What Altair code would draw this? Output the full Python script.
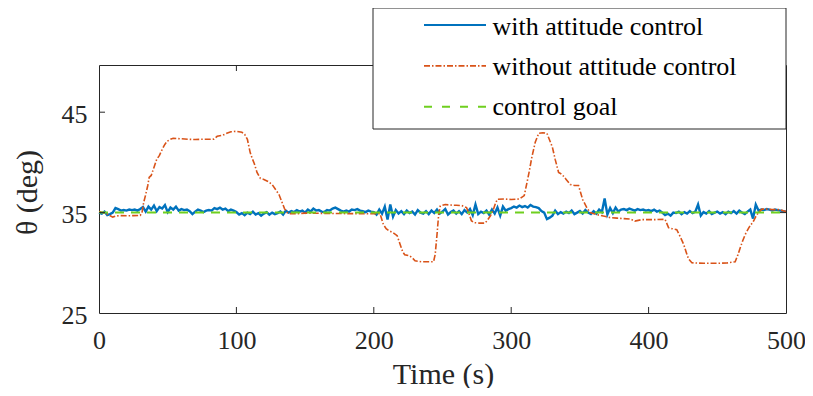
import altair as alt
import pandas as pd

# ---------------- data ----------------
blue_t = list(range(0, 501, 2))
blue_theta = [
    35.0, 34.9, 35.1, 34.75, 34.85, 35.0, 35.45, 35.35, 35.2, 35.25,
    35.2, 35.3, 35.25, 35.3, 35.2, 35.35, 35.55, 35.1, 35.6, 35.3,
    35.7, 35.15, 35.55, 35.4, 35.75, 35.05, 35.5, 35.3, 35.6, 35.2,
    35.35, 35.25, 35.3, 35.15, 34.85, 35.1, 35.3, 35.2, 35.05, 35.2,
    35.25, 35.2, 35.45, 35.35, 35.5, 35.3, 35.4, 35.15, 35.3, 35.2,
    35.05, 34.8, 34.95, 34.75, 35.0, 34.85, 35.1, 34.8, 34.95, 34.7,
    34.9, 35.05, 34.8, 35.0, 34.85, 34.95, 35.1, 34.8, 35.2, 35.0,
    35.15, 35.05, 35.25, 35.1, 35.2, 35.0, 35.3, 35.1, 35.4, 35.2,
    35.25, 35.1, 35.05, 35.25, 35.2, 35.4, 35.5, 35.35, 35.2, 35.1,
    35.2, 35.1, 35.3, 35.25, 35.35, 35.2, 35.15, 35.05, 35.2, 35.1,
    35.05, 34.8, 35.3, 34.9, 35.6, 34.3, 35.8, 34.6, 35.25, 34.9,
    35.15, 34.85, 35.2, 34.95, 35.1, 34.8, 35.25, 35.0, 34.9, 35.15,
    34.85, 35.2, 34.95, 35.3, 34.9, 35.1, 35.35, 34.8, 35.05, 35.2,
    34.9, 35.15, 34.85, 35.25, 35.0, 35.35, 34.75, 35.8, 34.85, 35.1,
    34.95, 35.2, 34.8, 35.3, 34.9, 35.5, 34.7, 35.6, 35.2, 35.35,
    35.45, 35.6, 35.5, 35.7, 35.55, 35.65, 35.5, 35.75, 35.6, 35.55,
    35.45, 35.15, 35.0, 34.35, 34.5, 34.7, 35.2, 34.85, 35.05, 34.9,
    35.1, 34.95, 35.2, 34.85, 35.0, 35.15, 34.9, 35.25, 35.0, 34.85,
    35.15, 34.9, 35.3, 35.05, 36.4, 34.8, 35.45, 34.95, 35.5, 35.1,
    35.3, 35.35, 35.25, 35.4, 35.3, 35.2, 35.35, 35.25, 35.3, 35.2,
    35.25, 35.15, 35.3, 35.1, 35.2, 35.0, 34.75, 34.9, 34.7, 35.0,
    34.95, 35.1, 34.85, 35.05, 34.9, 35.15, 34.95, 35.1, 35.8, 34.7,
    35.05, 34.9, 35.15, 34.85, 35.0, 35.1, 34.9, 35.05, 34.85, 35.1,
    34.95, 35.15, 34.9, 35.2, 35.0, 34.85, 35.1, 35.3, 34.4, 35.8,
    35.2, 35.3, 35.25, 35.35, 35.3, 35.2, 35.3, 35.25, 35.2, 35.15,
    35.1,
]

orange_t = [
    0, 3, 6, 10, 12, 15, 20, 25, 30, 31.3,
    32.5, 34, 35.5, 36.5, 38, 40, 42, 44, 46, 47.5,
    49.5, 52, 54, 60, 65, 70, 75, 80, 83.5, 86,
    90, 93, 96, 100, 104, 106, 108, 110, 111.5, 113,
    115, 117.5, 120, 123, 126, 128.5, 131, 133, 135, 137,
    138, 145, 150, 165, 180, 195, 204.5, 207, 209, 211,
    214, 217, 219, 221, 222.5, 226, 228, 230, 235, 240,
    243.5, 244.7, 246, 247.2, 248.4, 252, 256, 260, 264, 267.5,
    269, 271, 273, 277, 281, 283, 285, 287, 288.5, 290,
    295, 300, 306, 309.5, 311.5, 313, 315, 317.5, 320, 323,
    326, 328, 330, 332, 334.5, 337, 340, 343, 346, 349,
    350.5, 352, 355, 357.5, 362, 367, 372, 377, 382, 387,
    390, 395, 400, 405, 412, 414.5, 417, 420.5, 423, 425.5,
    427.5, 429, 431.5, 440, 450, 457, 463, 465, 466.7, 468.5,
    470.4, 473, 476.4, 478, 480, 482.5, 486, 490, 495, 500,
]
orange_theta = [
    35.1, 35.0, 34.85, 34.55, 34.65, 34.7, 34.68, 34.7, 34.72, 35.0,
    36.0, 36.8, 37.7, 38.5, 38.7, 39.5, 40.3, 40.7, 41.3, 41.7,
    42.1, 42.3, 42.4, 42.35, 42.3, 42.28, 42.3, 42.3, 42.32, 42.6,
    42.7, 42.9, 43.05, 43.1, 43.0, 42.8, 42.3, 41.0, 40.4, 39.9,
    39.0, 38.4, 38.3, 38.1, 37.8, 37.3, 36.8, 36.1, 35.4, 35.0,
    34.9, 34.9, 34.95, 34.92, 34.9, 34.88, 34.9, 33.8, 33.4, 33.2,
    33.0, 32.7, 31.9, 31.1, 30.8, 30.7, 30.5, 30.2, 30.1, 30.1,
    30.1, 30.85, 32.8, 34.8, 35.66, 35.8, 35.75, 35.73, 35.7, 35.5,
    35.0, 34.2, 34.0, 33.95, 33.95, 34.3, 34.7, 35.3, 35.9, 36.33,
    36.35, 36.3, 36.35, 36.7, 38.0, 39.0, 40.5, 42.0, 42.9, 42.95,
    42.9, 42.2, 41.5, 40.3, 39.0, 38.8, 38.3, 37.8, 37.7, 37.7,
    37.0, 36.3, 35.5, 35.0, 34.8, 34.67, 34.5, 34.45, 34.4, 34.35,
    34.15, 34.3, 34.3, 34.3, 34.33, 33.5, 33.4, 33.3, 32.6, 31.85,
    31.0, 30.4, 30.0, 29.95, 29.95, 29.98, 30.1, 30.8, 31.5, 32.2,
    32.84, 33.5, 34.16, 34.6, 35.0, 35.35, 35.35, 35.3, 35.3, 35.1,
]

goal_t = [0, 500]
goal_theta = [35, 35]

x_ticks = [0, 100, 200, 300, 400, 500]
y_ticks = [25, 35, 45]
legend_labels = ["with attitude control", "without attitude control", "control goal"]

# ---------------- styling ----------------
W, H = 687, 248
FONT = "Liberation Serif"
AX = "#262626"
BLUE = "#0072BD"
ORANGE = "#D95319"
GREEN = "#6FCF1F"

xs = alt.Scale(domain=[0, 500], nice=False, zero=False)
ys = alt.Scale(domain=[25, 49.7], nice=False, zero=False)

blue_df = pd.DataFrame({"t": blue_t, "theta": blue_theta})
orange_df = pd.DataFrame({"t": orange_t, "theta": orange_theta})
goal_df = pd.DataFrame({"t": goal_t, "theta": goal_theta})
xt_df = pd.DataFrame({"t": [v for v in x_ticks if 0 < v < 500]})
yt_df = pd.DataFrame({"theta": [v for v in y_ticks if 25 < v]})
leg_df = pd.DataFrame({"label": legend_labels, "row": [0, 1, 2]})

x_axis = alt.Axis(
    values=x_ticks, ticks=False, domain=False, grid=False,
    labelFont=FONT, labelFontSize=26, labelColor=AX, labelPadding=14,
    labelFlush=False,
    title="Time (s)", titleFont=FONT, titleFontSize=30, titleFontWeight="normal",
    titleColor=AX, titleX=344, titleY=70, titleBaseline="alphabetic",
    titleAlign="center",
)
y_axis = alt.Axis(
    values=y_ticks, ticks=False, domain=False, grid=False,
    labelFont=FONT, labelFontSize=26, labelColor=AX, labelPadding=12,
    labelFlush=False, labelOffset=2,
    title="θ (deg)", titleFont=FONT, titleFontSize=30, titleFontWeight="normal",
    titleColor=AX, titleAngle=270, titleX=-72, titleY=127,
    titleBaseline="middle", titleAlign="center",
)
X = alt.X("t:Q", scale=xs, axis=x_axis, title="Time (s)")
Y = alt.Y("theta:Q", scale=ys, axis=y_axis, title="θ (deg)")

blue = alt.Chart(blue_df).mark_line(color=BLUE, strokeWidth=2.4).encode(x=X, y=Y)
orange = alt.Chart(orange_df).mark_line(
    color=ORANGE, strokeWidth=1.6, strokeDash=[6, 2, 1.5, 2]
).encode(x=X, y=Y)
goal = alt.Chart(goal_df).mark_line(
    color=GREEN, strokeWidth=2, strokeDash=[9, 7]
).encode(x=X, y=Y)

# inward tick marks (MATLAB style)
tick_kw = dict(color=AX, strokeWidth=1)
xt_bottom = alt.Chart(xt_df).mark_rule(**tick_kw).encode(
    x=X, y=alt.value(H), y2=alt.value(H - 6),
)
xt_top = alt.Chart(xt_df).mark_rule(**tick_kw).encode(
    x=X, y=alt.value(0), y2=alt.value(6),
)
yt_left = alt.Chart(yt_df).mark_rule(**tick_kw).encode(
    y=Y, x=alt.value(0), x2=alt.value(6),
)
yt_right = alt.Chart(yt_df).mark_rule(**tick_kw).encode(
    y=Y, x=alt.value(W), x2=alt.value(W - 6),
)

# legend (drawn as marks)
leg_box = alt.Chart(leg_df).transform_filter("datum.row == 0").mark_rect(
    fill="white", stroke=AX, strokeWidth=1
).encode(
    x=alt.value(274), x2=alt.value(W), y=alt.value(-57), y2=alt.value(64)
)
line_styles = [
    dict(color=BLUE, strokeWidth=2),
    dict(color=ORANGE, strokeWidth=1.6, strokeDash=[6, 2, 1.5, 2]),
    dict(color=GREEN, strokeWidth=2, strokeDash=[8, 10]),
]
leg_lines = []
for i, st in enumerate(line_styles):
    leg_lines.append(
        alt.Chart(leg_df).transform_filter(f"datum.row == {i}")
        .transform_calculate(py="-40 + datum.row * 40.85")
        .mark_rule(**st)
        .encode(
            x=alt.value(325), x2=alt.value(387),
            y=alt.Y("py:Q", scale=None, axis=None),
        )
    )
leg_text = alt.Chart(leg_df).transform_calculate(
    py="-30 + datum.row * 40"
).mark_text(
    align="left", baseline="alphabetic", font=FONT, fontSize=26, color="black"
).encode(
    x=alt.value(393.5),
    y=alt.Y("py:Q", scale=None, axis=None),
    text="label:N",
)

chart = alt.layer(
    blue, orange, goal, xt_bottom, xt_top, yt_left, yt_right,
    leg_box, *leg_lines, leg_text,
).properties(
    width=W, height=H,
    autosize=alt.AutoSizeParams(type="none"),
    padding={"left": 91, "top": 57, "right": 19, "bottom": 75},
).configure_view(stroke=AX, strokeWidth=1)

chart.save("out.html", embed_options={"renderer": "svg", "actions": False})
